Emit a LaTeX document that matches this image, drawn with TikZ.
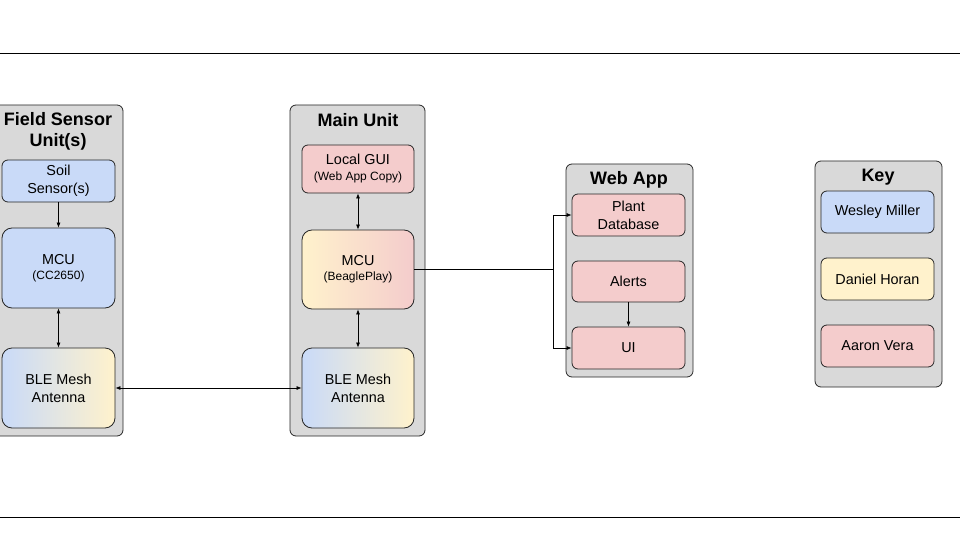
\documentclass[tikz,border=0pt]{standalone}
\usepackage{fontspec}
\setmainfont{Liberation Sans}
\usetikzlibrary{arrows.meta}
\definecolor{bl}{HTML}{C9DAF8}
\definecolor{yl}{HTML}{FFF2CC}
\definecolor{pk}{HTML}{F4CCCC}
\definecolor{gr}{HTML}{D9D9D9}
\newcommand{\subtxt}{\fontsize{12}{14}\selectfont}
\tikzset{grp/.style={draw=black!85,fill=gr,rounded corners=6pt,line width=.8pt,minimum width=#1},
  box/.style={draw=black!85,rounded corners=6pt,line width=.8pt,align=center,inner sep=0pt,
    font=\fontsize{14.4}{18}\selectfont,minimum width=113pt},
  ttl/.style={font=\bfseries\fontsize{18}{21}\selectfont,align=center},
  arr/.style={-{Latex[length=5pt,width=4pt]},line width=.7pt},
  darr/.style={{Latex[length=5pt,width=4pt]}-{Latex[length=5pt,width=4pt]},line width=.7pt}}

\begin{document}
\begin{tikzpicture}[x=1pt,y=-1pt]
\useasboundingbox (0,0) rectangle (960,540);
\draw[line width=.8pt] (0,53) -- (960,53) (0,517) -- (960,517);
% groups
\node[grp=133pt,minimum height=331pt] (fsu) at (56.5,270.5) {};
\node[grp=135pt,minimum height=331pt] (mu) at (357.5,270.5) {};
\node[grp=127pt,minimum height=213pt] (wa) at (629.5,270.5) {};
\node[grp=127pt,minimum height=226pt] (key) at (878.5,274) {};
\node[ttl] (tf) at (58,131) {Field Sensor\\Unit(s)};
\node[ttl] (tm) at (358,120) {Main Unit};
\node[ttl] (tw) at (629,180) {Web App};
\node[ttl] (tk) at (878,177) {Key};
% field sensor unit
\node[box,fill=bl,minimum height=42pt] (soil) at (58.5,181) {Soil\\Sensor(s)};
\node[box,fill=bl,minimum height=80pt,rounded corners=10pt] (mcuf) at (58.5,268) {MCU\\[-3pt]{\subtxt (CC2650)}};
\node[box,left color=bl,right color=yl,minimum height=80pt,rounded corners=10pt] (blef) at (58.5,388) {BLE Mesh\\Antenna};
% main unit
\node[box,fill=pk,minimum width=112pt,minimum height=48pt] (gui) at (358,169) {Local GUI\\[-2pt]{\subtxt (Web App Copy)}};
\node[box,left color=yl,right color=pk,minimum width=112pt,minimum height=79pt,rounded corners=10pt] (mcum) at (358,269.5) {MCU\\[-3pt]{\subtxt (BeaglePlay)}};
\node[box,left color=bl,right color=yl,minimum width=112pt,minimum height=80pt,rounded corners=10pt] (blem) at (358,388) {BLE Mesh\\Antenna};
% web app
\node[box,fill=pk,minimum height=42pt] (pdb) at (628.5,215) {Plant\\Database};
\node[box,fill=pk,minimum height=41pt] (alr) at (628.5,281.5) {Alerts};
\node[box,fill=pk,minimum height=42pt] (ui) at (628.5,348) {UI};
% key
\node[box,fill=bl,minimum height=42pt] (wes) at (877.5,212) {Wesley Miller};
\node[box,fill=yl,minimum height=42pt] (dan) at (877.5,279) {Daniel Horan};
\node[box,fill=pk,minimum height=42pt] (aar) at (877.5,346) {Aaron Vera};
% links
\coordinate (j) at (553,269.5);
\draw[arr] (soil) -- (mcuf);
\draw[darr] (mcuf) -- (blef);
\draw[darr] (blef) -- (blem);
\draw[darr] (gui) -- (mcum);
\draw[darr] (mcum) -- (blem);
\draw[line width=.7pt] (mcum) -- (j);
\draw[arr] (j) |- (pdb);
\draw[arr] (j) |- (ui);
\draw[arr] (alr) -- (ui);
\end{tikzpicture}
\end{document}
